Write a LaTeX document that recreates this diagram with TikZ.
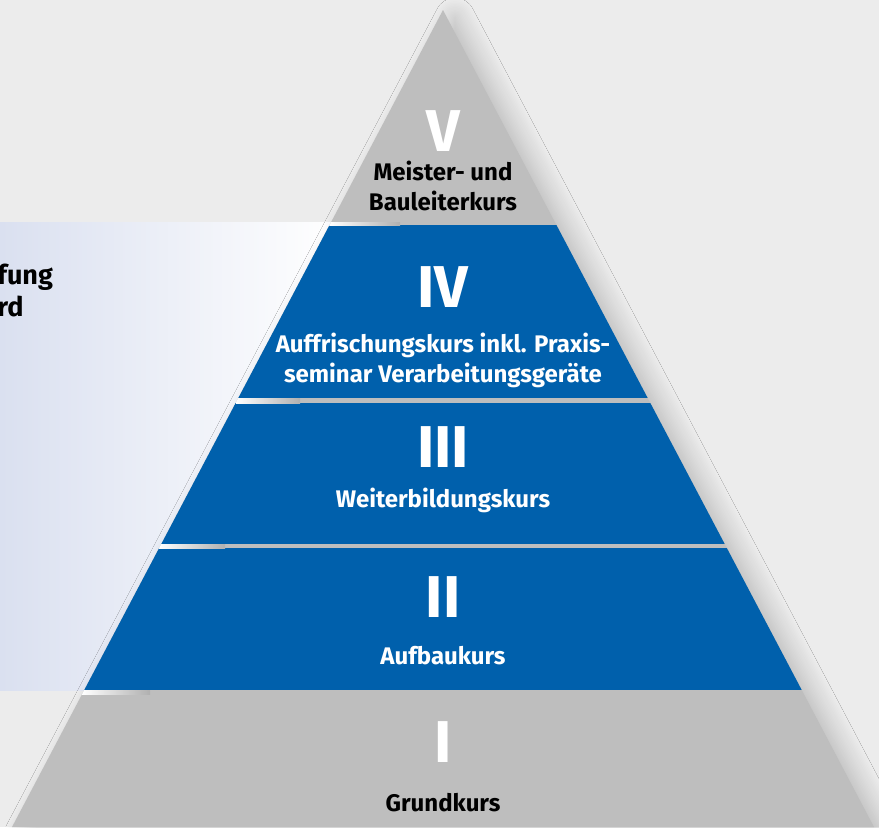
\documentclass[tikz,border=0pt]{standalone}
\usepackage{fontspec}
\setmainfont{Fira Sans}
\usetikzlibrary{shadows.blur}
\definecolor{bggray}{HTML}{ECECEC}
\definecolor{pyrgray}{HTML}{BEBEBE}
\definecolor{sepgray}{HTML}{B0B0B0}
\definecolor{kursblau}{HTML}{0060AC}
\definecolor{panelblau}{HTML}{DAE0F0}
\begin{document}
\begin{tikzpicture}[x=0.5pt,y=-0.5pt,
stufe/.style={fill=kursblau},
fuge/.style={left color=white, right color=sepgray},
nummer/.style={font=\fontsize{29.5}{29.5}\selectfont\bfseries, text=white, inner sep=0pt},
titel/.style={font=\fontsize{12}{15}\selectfont\bfseries, align=center, inner sep=0pt}]
\fill[bggray] (0,0) rectangle (879,827);
\useasboundingbox (0,0) rectangle (879,827);
\shade[left color=panelblau, right color=white] (0,222) rectangle (335,690);
\fill[pyrgray, blur shadow={shadow xshift=6pt, shadow yshift=-4pt, shadow blur radius=10pt, shadow blur steps=14, shadow opacity=22}] (443,10) -- (874,827) -- (12,827) -- cycle;
\begin{scope}
\clip (443,10) -- (874,827) -- (12,827) -- cycle;
\fill[stufe] (0,225) rectangle (879,398);
\fill[stufe] (0,403) rectangle (879,544);
\fill[stufe] (0,548) rectangle (879,690);
\shade[fuge] (329,222) rectangle (400,225); % Fugen
\shade[fuge] (236,398) rectangle (300,403);
\shade[fuge] (159,544) rectangle (225,548);
\shade[fuge] (82,690) rectangle (150,694);
\end{scope}
\node[nummer] (n5) at (443,131) {V};
\node[titel] (t5) at (443,186) {Meister- und\\Bauleiterkurs};
\node[nummer] (n4) at (443,287) {IV};
\node[titel, text=white] (t4) at (443,360) {Auffrischungskurs inkl. Praxis-\\seminar Verarbeitungsgeräte};
\node[nummer] (n3) at (443,447) {III};
\node[titel, text=white] (t3) at (443,500) {Weiterbildungskurs};
\node[nummer] (n2) at (443,597) {II};
\node[titel, text=white] (t2) at (443,656) {Aufbaukurs};
\node[nummer] (n1) at (443,742) {I};
\node[titel] (t1) at (443,803) {Grundkurs};
\node[titel, font=\fontsize{13.5}{16}\selectfont\bfseries, align=left, anchor=west] (rest) at (-3,290) {fung\\rd};
\end{tikzpicture}
\end{document}
